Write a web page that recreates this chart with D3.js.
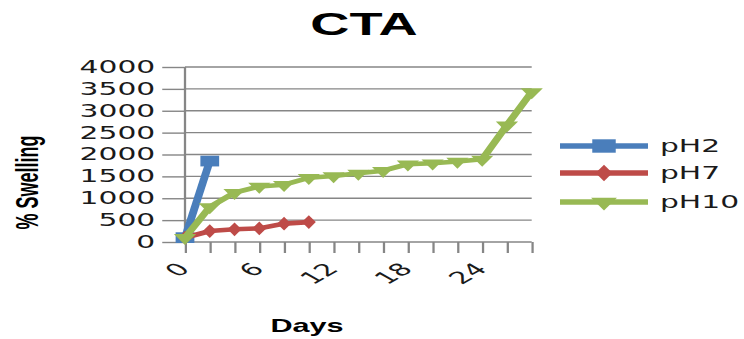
<!DOCTYPE html>
<html>
<head>
<meta charset="utf-8">
<script src="https://cdn.jsdelivr.net/npm/d3@7/dist/d3.min.js"></script>
<style>
  html, body { margin: 0; padding: 0; background: #fff; }
  svg { display: block; }
</style>
</head>
<body>
<div id="chart"></div>
<script>
// Swelling of CTA over time at three pH levels
const days = [0, 2, 4, 6, 8, 10, 12, 14, 16, 18, 20, 22, 24, 26, 28];
const dayLabels = [0, 6, 12, 18, 24];
const yTicks = [0, 500, 1000, 1500, 2000, 2500, 3000, 3500, 4000];

const pH2 = [100, 1850];
const pH7 = [100, 250, 290, 310, 420, 455];
const pH10 = [100, 800, 1130, 1270, 1310, 1470, 1510, 1570, 1630, 1780, 1800, 1840, 1890, 2670, 3430];

const seriesNames = ["pH2", "pH7", "pH10"];
const seriesValues = [pH2, pH7, pH10];
const seriesColors = ["#4A7EBB", "#BE4B48", "#98B954"];

const W = 744, H = 339;
const sx = 1.75; // whole drawing is widened horizontally

const svg = d3.select("#chart").append("svg")
  .attr("width", W).attr("height", H);
svg.append("rect").attr("width", W).attr("height", H).attr("fill", "#fff");

const g = svg.append("g").attr("transform", `scale(${sx},1)`);

const x = d3.scaleLinear().domain([0, 28]).range([185 / sx, 531.7 / sx]);
const y = d3.scaleLinear().domain([0, 4000]).range([242, 67]);

const axisColor = "#868686";

// horizontal gridlines
g.append("g").selectAll("line").data(yTicks.slice(1)).join("line")
  .attr("x1", x(0)).attr("x2", x(28))
  .attr("y1", d => y(d)).attr("y2", d => y(d))
  .attr("stroke", axisColor).attr("stroke-width", 1.4);

// y axis
const yAxis = g.append("g").attr("transform", `translate(${x(0)},0)`)
  .call(d3.axisLeft(y).tickValues(yTicks).tickSize(13).tickPadding(4)
    .tickFormat(d3.format("d")));
yAxis.select(".domain").remove();
yAxis.append("line").attr("y1", y(0)).attr("y2", y(4000)).attr("stroke", axisColor).attr("stroke-width", 1.3);
yAxis.selectAll(".tick line").attr("stroke", axisColor).attr("stroke-width", 1.4);
yAxis.selectAll(".tick text")
  .attr("font-family", "DejaVu Sans").attr("font-size", 17).attr("fill", "#1a1a1a");

// x axis
const xAxis = g.append("g").attr("transform", `translate(0,${y(0)})`)
  .call(d3.axisBottom(x).tickValues(days).tickSize(11)
    .tickFormat(d => dayLabels.includes(d) ? d : ""));
xAxis.select(".domain").attr("stroke", axisColor).attr("stroke-width", 1.4)
  .attr("d", `M${x(0)},0H${x(28)}`);
xAxis.selectAll(".tick line").attr("stroke", axisColor).attr("stroke-width", 1.3);
xAxis.selectAll(".tick text")
  .attr("font-family", "DejaVu Sans").attr("font-size", 17).attr("fill", "#1a1a1a")
  .attr("text-anchor", "end")
  .attr("y", 0).attr("dy", 0)
  .attr("transform", "translate(3,28) rotate(-45)");

// series lines and markers
const line = d3.line().x((d, i) => x(days[i])).y(d => y(d));
const markerTypes = [d3.symbolSquare, d3.symbolDiamond, d3.symbolTriangle];
const markerSizes = [115, 55, 70];
const markerRot = [0, 0, 180];

seriesValues.forEach((vals, k) => {
  g.append("path").datum(vals)
    .attr("d", line)
    .attr("fill", "none")
    .attr("stroke", seriesColors[k])
    .attr("stroke-width", 4.6)
    .attr("stroke-linejoin", "round");
  g.append("g").selectAll("path").data(vals).join("path")
    .attr("d", d3.symbol().type(markerTypes[k]).size(markerSizes[k]))
    .attr("transform", (d, i) => `translate(${x(days[i])},${y(d)}) rotate(${markerRot[k]})`)
    .attr("fill", seriesColors[k]);
});

// legend
const legendY = [146, 173, 202];
const legendMarkerSizes = [180, 80, 95];
const lg = g.append("g");
seriesNames.forEach((name, k) => {
  const x1 = 560 / sx, x2 = 648 / sx;
  lg.append("line").attr("x1", x1).attr("x2", x2)
    .attr("y1", legendY[k]).attr("y2", legendY[k])
    .attr("stroke", seriesColors[k]).attr("stroke-width", 5.5);
  lg.append("path")
    .attr("d", d3.symbol().type(markerTypes[k]).size(legendMarkerSizes[k]))
    .attr("transform", `translate(${(x1 + x2) / 2},${legendY[k]}) rotate(${markerRot[k]})`)
    .attr("fill", seriesColors[k]);
  lg.append("text").attr("x", 660 / sx).attr("y", legendY[k] + 6)
    .attr("font-family", "DejaVu Sans").attr("font-size", 17).attr("fill", "#1a1a1a")
    .text(name);
});

// titles
g.append("text").attr("x", 364 / sx).attr("y", 35)
  .attr("text-anchor", "middle")
  .attr("font-family", "Liberation Sans").attr("font-weight", "bold")
  .attr("font-size", 31).attr("fill", "#000")
  .text("CTA");

g.append("text").attr("x", 307 / sx).attr("y", 332)
  .attr("text-anchor", "middle")
  .attr("font-family", "Liberation Sans").attr("font-weight", "bold")
  .attr("font-size", 17.5).attr("fill", "#000")
  .text("Days");

g.append("text")
  .attr("transform", `translate(${38 / sx},182.5) rotate(-90)`)
  .attr("text-anchor", "middle")
  .attr("font-family", "Liberation Sans").attr("font-weight", "bold")
  .attr("font-size", 18).attr("fill", "#000")
  .text("% Swelling");
</script>
</body>
</html>
